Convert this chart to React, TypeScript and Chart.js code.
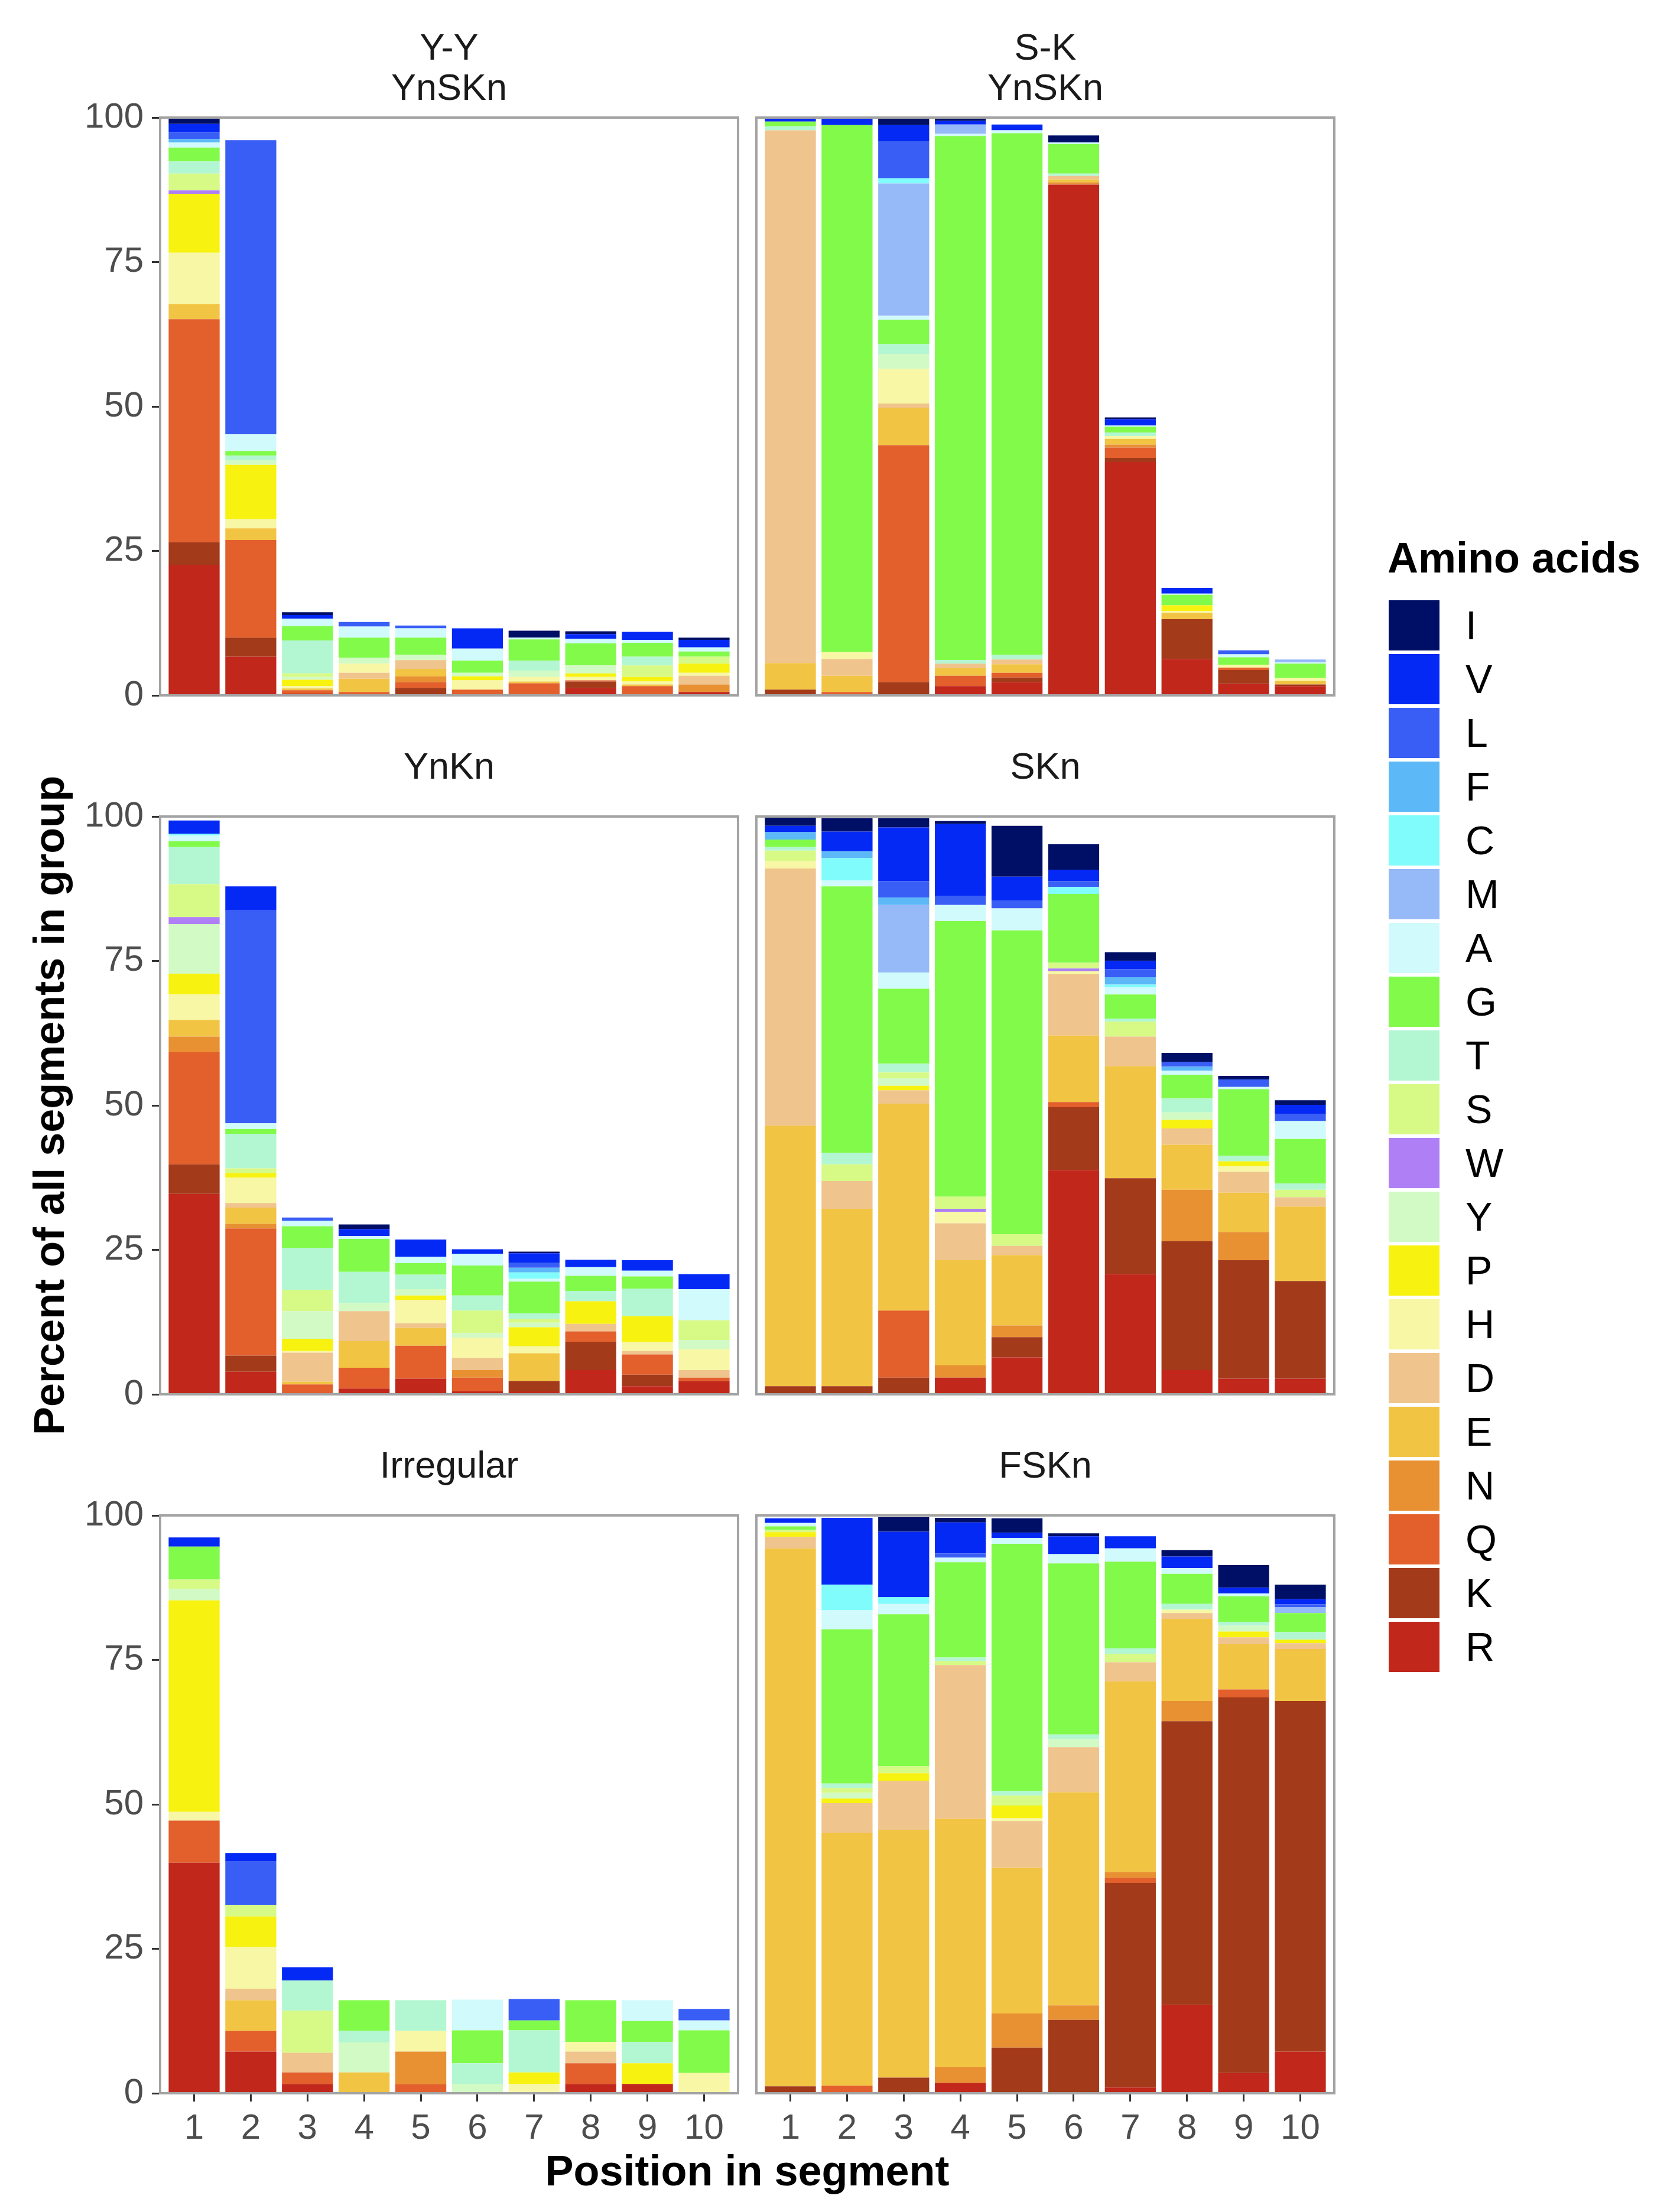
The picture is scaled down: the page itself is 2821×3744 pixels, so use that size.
import React, { useEffect, useRef } from "react";
import { Chart, registerables } from "chart.js";

Chart.register(...registerables);

// ---------- data ----------
const positions = [1, 2, 3, 4, 5, 6, 7, 8, 9, 10];
const yTicks = [0, 25, 50, 75, 100];
const aminoAcids = ["I", "V", "L", "F", "C", "M", "A", "G", "T", "S", "W", "Y", "P", "H", "D", "E", "N", "Q", "K", "R"];
const aaColors = [
  "#000F66", "#0529F5", "#395EF5", "#5DB8F7", "#80FCFC", "#96B9F7", "#D1FAFC", "#82FA4A", "#B3F7D2", "#D6FA85",
  "#AF80F5", "#D2FAC4", "#F7F20F", "#F7F7A5", "#F0C48D", "#F2C443", "#E89133", "#E35F2B", "#A33A1A", "#C2271C",
];

// rows follow aminoAcids order, columns follow positions 1..10 (percent)
const yyYnSKn = [
  [1.0, 0, 0.5, 0, 0, 0, 1.2, 0.5, 0, 0.4],
  [1.5, 0, 0.6, 0, 0, 3.5, 0, 0.8, 1.4, 1.3],
  [1.1, 50.9, 0, 0.8, 0.5, 0, 0, 0, 0, 0],
  [0.6, 0, 0, 0, 0, 0, 0, 0, 0, 0],
  [0, 0, 0, 0, 0, 0, 0, 0, 0, 0],
  [0, 0, 0, 0, 0, 0, 0, 0, 0, 0],
  [0.9, 2.9, 1.3, 1.9, 1.6, 2.1, 0.3, 0.8, 0.5, 0.7],
  [2.4, 0.8, 2.5, 3.5, 3.0, 2.1, 3.7, 3.8, 2.4, 0.9],
  [2.1, 0.8, 5.7, 0, 0, 0, 1.7, 0, 1.5, 0],
  [2.9, 0, 0.6, 0, 0, 0, 0, 0, 2.0, 1.2],
  [0.6, 0, 0, 0, 0, 0, 0, 0, 0, 0],
  [0, 0.8, 0.5, 1.0, 0.9, 0.6, 1.1, 1.4, 0, 0],
  [10.2, 9.4, 1.1, 0, 0, 0.7, 0, 0.6, 0.8, 1.6],
  [8.9, 1.6, 0.4, 1.6, 0, 1.6, 0.8, 0.6, 0.5, 0.5],
  [0, 0, 0, 1.0, 1.5, 0, 0, 0, 0, 1.5],
  [2.6, 2.0, 0.3, 2.3, 1.3, 0, 0.3, 0, 0.3, 0],
  [0, 0, 0, 0, 1.0, 0, 0, 0, 0, 1.3],
  [38.6, 16.9, 0.6, 0.6, 1.0, 1.0, 2.1, 0.2, 1.6, 0],
  [3.9, 3.3, 0, 0, 1.3, 0, 0, 1.1, 0, 0],
  [22.6, 6.7, 0.3, 0, 0, 0, 0, 1.3, 0, 0.6],
];

const skYnSKn = [
  [0, 0, 1.4, 0.4, 0, 1.2, 0.3, 0, 0, 0],
  [0.5, 1.3, 2.8, 0.6, 1.0, 0, 1.1, 1.0, 0, 0],
  [0, 0, 6.4, 0, 0, 0, 0, 0, 0.7, 0],
  [0, 0, 0, 0, 0, 0, 0, 0, 0, 0],
  [0, 0, 0.9, 0, 0, 0, 0, 0, 0, 0],
  [0, 0, 22.9, 1.6, 0, 0, 0, 0, 0, 0.5],
  [0, 0, 0.7, 0.4, 0.5, 0.3, 0.2, 0.2, 0.5, 0.2],
  [0.8, 91.2, 4.2, 90.7, 90.3, 5.1, 1.0, 1.8, 1.3, 2.5],
  [0.7, 0, 1.7, 0.6, 0.8, 0.4, 0.6, 0, 0, 0],
  [0, 0, 0, 0, 0, 0, 0, 0, 0, 0],
  [0, 0, 0, 0, 0, 0, 0, 0, 0, 0],
  [0, 0, 2.6, 0, 0, 0, 0, 0, 0, 0],
  [0, 0, 0, 0, 0, 0, 0, 1.0, 0, 0],
  [0, 1.2, 6.0, 0, 0, 0, 0.5, 0.3, 0.5, 0.5],
  [92.2, 2.9, 0.7, 0.8, 0.8, 0.6, 0, 0, 0, 0],
  [4.6, 2.8, 6.5, 1.3, 1.5, 0.5, 1.0, 1.1, 0, 0.6],
  [0, 0, 0, 0, 0, 0.4, 0.5, 0, 0, 0],
  [0, 0.6, 41.0, 1.8, 0.8, 0, 1.8, 0, 0.4, 0],
  [1.0, 0, 2.3, 0, 0.8, 0, 0.7, 6.9, 2.4, 0.3],
  [0, 0, 0, 1.6, 2.3, 88.4, 40.4, 6.3, 2.0, 1.6],
];

const ynKn = [
  [0, 0, 0, 0.8, 0, 0, 0.3, 0, 0, 0],
  [2.3, 4.2, 0, 1.2, 3.0, 0.8, 1.6, 1.3, 1.8, 2.6],
  [0, 36.8, 0.6, 0, 0, 0, 0.9, 0, 0, 0],
  [0, 0, 0, 0, 0, 0, 0.8, 0, 0, 0],
  [0.3, 0, 0, 0, 0, 0, 1.1, 0, 0, 0],
  [0, 0, 0, 0, 0, 0, 0, 0, 0, 0],
  [1.0, 1.0, 0.9, 0.5, 1.1, 2.0, 0.5, 1.5, 1.0, 5.4],
  [1.0, 0.8, 3.8, 5.7, 2.0, 5.2, 5.5, 2.6, 2.1, 0],
  [6.4, 6.0, 7.2, 5.4, 2.5, 2.6, 1.0, 1.8, 4.8, 0],
  [5.7, 0.8, 3.7, 0, 0, 3.9, 0.6, 0, 0, 3.4],
  [1.2, 0, 0, 0, 0, 0, 0, 0, 0, 0],
  [8.6, 0, 4.8, 1.4, 1.1, 0.8, 0.8, 0, 0, 1.6],
  [3.6, 0.8, 2.1, 0, 0.8, 0, 3.3, 3.9, 4.4, 0],
  [4.4, 4.4, 0.3, 0, 4.0, 3.5, 1.2, 0, 1.6, 3.6],
  [0, 0.8, 5.0, 5.2, 0.8, 2.1, 0, 1.3, 0.6, 1.3],
  [2.9, 2.8, 0.5, 4.6, 3.1, 0, 4.8, 0, 0, 0],
  [2.7, 0.8, 0, 0, 0, 1.3, 0, 0, 0, 0],
  [19.4, 22.0, 1.7, 3.6, 5.7, 2.4, 0, 1.8, 3.5, 0.6],
  [5.1, 2.8, 0, 0, 0, 0, 1.8, 4.9, 2.0, 0],
  [34.7, 3.9, 0, 1.0, 2.7, 0.5, 0.5, 4.2, 1.4, 2.3],
];

const sKn = [
  [1.5, 2.3, 1.6, 0.5, 8.8, 4.4, 1.5, 1.6, 0.6, 0.8],
  [1.1, 3.4, 9.3, 12.4, 4.2, 2.0, 1.4, 0, 0, 1.6],
  [0, 0, 2.8, 1.6, 1.3, 1.0, 1.4, 0.8, 1.3, 1.2],
  [1.3, 1.2, 1.3, 0, 0, 0, 1.3, 0.7, 0, 0],
  [0, 3.9, 0, 0, 0, 1.2, 0.5, 0, 0, 0],
  [0, 0, 11.7, 0, 0, 0, 0, 0, 0, 0],
  [0, 1.0, 2.8, 2.8, 3.8, 0, 1.2, 0.7, 0.4, 3.1],
  [1.3, 46.1, 13.0, 47.7, 52.6, 11.9, 4.2, 4.1, 11.5, 7.7],
  [0.6, 2.0, 1.5, 0, 0, 0, 0.5, 2.4, 1.0, 1.1],
  [1.8, 2.9, 1.0, 2.1, 2.0, 1.0, 2.6, 0, 0, 1.3],
  [0, 0, 0, 0.5, 0, 0.5, 0, 0, 0, 0],
  [0, 0, 1.3, 0, 0, 0, 0, 1.3, 0, 0],
  [0, 0, 0.8, 0, 0, 0, 0, 1.5, 0.8, 0],
  [1.3, 0, 0, 2.0, 0, 0.5, 0, 0, 1.0, 0],
  [44.5, 4.8, 2.3, 6.4, 1.6, 10.6, 5.1, 2.8, 3.6, 1.6],
  [45.1, 30.7, 35.8, 18.2, 12.2, 11.5, 19.4, 7.8, 6.8, 12.9],
  [0, 0, 0, 2.1, 2.0, 0, 0, 8.9, 4.9, 0],
  [0, 0, 11.6, 0, 0, 0.9, 0, 0, 0, 0],
  [1.4, 1.4, 2.9, 0, 3.5, 10.9, 16.6, 22.3, 20.5, 16.9],
  [0, 0, 0, 2.9, 6.4, 38.8, 20.8, 4.2, 2.7, 2.7],
];

const irregular = [
  [0, 0, 0, 0, 0, 0, 0, 0, 0, 0],
  [1.6, 1.5, 2.3, 0, 0, 0, 0, 0, 0, 0],
  [0, 7.5, 0, 0, 0, 0, 3.7, 0, 0, 2.0],
  [0, 0, 0, 0, 0, 0, 0, 0, 0, 0],
  [0, 0, 0, 0, 0, 0, 0, 0, 0, 0],
  [0, 0, 0, 0, 0, 0, 0, 0, 0, 0],
  [0, 0, 0, 0, 0, 5.3, 0, 0, 3.6, 1.7],
  [5.7, 0, 0, 5.3, 0, 5.7, 1.7, 7.2, 3.6, 7.4],
  [0, 0, 5.2, 2.0, 5.3, 3.6, 7.3, 0, 3.7, 0],
  [1.6, 2.0, 7.3, 0, 0, 0, 0, 0, 0, 0],
  [0, 0, 0, 0, 0, 0, 0, 0, 0, 0],
  [2.0, 0, 0, 5.2, 0, 1.6, 0, 0, 0, 0],
  [36.6, 5.3, 0, 0, 0, 0, 2.0, 0, 3.6, 0],
  [1.5, 7.2, 0, 0, 3.6, 0, 1.6, 1.7, 0, 3.5],
  [0, 2.0, 3.4, 0, 0, 0, 0, 2.0, 0, 0],
  [0, 5.3, 0, 3.6, 0, 0, 0, 0, 0, 0],
  [0, 0, 0, 0, 5.6, 0, 0, 0, 0, 0],
  [7.3, 3.6, 2.0, 0, 1.6, 0, 0, 3.6, 0, 0],
  [0, 0, 0, 0, 0, 0, 0, 0, 0, 0],
  [39.9, 7.2, 1.6, 0, 0, 0, 0, 1.6, 1.6, 0],
];

const fSKn = [
  [0, 0, 2.5, 0.8, 2.5, 0.5, 0, 1.1, 3.9, 2.5],
  [0.8, 11.6, 11.3, 5.4, 0.9, 3.1, 2.1, 2.0, 1.0, 0.9],
  [0, 0, 0, 0.7, 0, 0, 0, 0, 0, 0.5],
  [0, 0, 0, 0, 0, 0, 0, 0, 0, 0],
  [0, 4.4, 1.2, 0, 0, 0, 0, 0, 0, 0],
  [0, 0, 0, 0, 0, 0, 0, 0, 0, 1.0],
  [0.6, 3.3, 1.8, 0.8, 1.0, 1.6, 2.3, 1.0, 0.5, 0],
  [0.6, 26.7, 26.3, 16.5, 42.8, 29.6, 15.0, 5.2, 4.4, 3.3],
  [0, 0.8, 0, 0.6, 0.8, 0.8, 1.0, 1.0, 0.7, 1.3],
  [0.4, 0.8, 1.2, 0.7, 1.7, 0, 1.4, 0, 0, 0],
  [0, 0, 0, 0, 0, 0, 0, 0, 0, 0],
  [0, 1.0, 0, 0, 0, 1.4, 0, 0, 1.0, 0],
  [0.8, 0.8, 1.3, 0, 2.2, 0, 0, 0, 1.0, 0.6],
  [0, 0, 0, 0, 0.5, 0, 0, 0.6, 0, 0],
  [2.0, 5.1, 8.5, 26.6, 8.1, 7.8, 3.3, 1.0, 1.2, 1.0],
  [93.1, 43.8, 42.9, 43.0, 25.2, 36.9, 33.0, 14.2, 7.8, 9.0],
  [0, 0, 0, 2.7, 5.9, 2.5, 1.0, 3.5, 0, 0],
  [0, 1.3, 0, 0, 0, 0, 0.9, 0, 1.4, 0],
  [1.2, 0, 2.7, 0, 7.9, 12.7, 35.4, 49.1, 65.0, 60.7],
  [0, 0, 0, 1.8, 0, 0, 1.0, 15.3, 3.5, 7.2],
];

const panelTitles = [["Y-Y", "YnSKn"], ["S-K", "YnSKn"], ["YnKn"], ["SKn"], ["Irregular"], ["FSKn"]];
const panelData = [yyYnSKn, skYnSKn, ynKn, sKn, irregular, fSKn];
const xTitle = "Position in segment";
const yTitle = "Percent of all segments in group";
const legendTitle = "Amino acids";

// ---------- layout ----------
const FONT = "'Liberation Sans', Arial, Helvetica, sans-serif";
const PW = 978;
const PH = 978;
const COL_X = [271, 1280];
const ROW_Y = [199, 1382, 2565];
const PAD = 64;
const YW = 140;
const XH = 120;

const borderPlugin = {
  id: "panelBorder",
  afterDatasetsDraw(chart: any) {
    const { ctx, chartArea } = chart;
    ctx.save();
    ctx.strokeStyle = "#a3a3a3";
    ctx.lineWidth = 4;
    ctx.strokeRect(chartArea.left, chartArea.top, chartArea.right - chartArea.left, chartArea.bottom - chartArea.top);
    ctx.restore();
  },
};

function Panel({ idx }: { idx: number }) {
  const ref = useRef<HTMLCanvasElement | null>(null);
  const col = idx % 2;
  const row = Math.floor(idx / 2);
  const isLeft = col === 0;
  const isBottom = row === 2;
  const cLeft = COL_X[col] - PAD - (isLeft ? YW : 0);
  const cTop = ROW_Y[row] - PAD;
  const cW = PW + 2 * PAD + (isLeft ? YW : 0);
  const cH = PH + 2 * PAD + (isBottom ? XH : 0);

  useEffect(() => {
    if (!ref.current) return;
    const matrix = panelData[idx];
    const datasets = aminoAcids
      .map((aa, i) => ({
        label: aa,
        data: positions.map((p, j) => ({ x: p, y: matrix[i][j] })),
        backgroundColor: aaColors[i],
        borderWidth: 0,
        barPercentage: 0.9,
        categoryPercentage: 1.0,
      }))
      .reverse();
    const chart = new Chart(ref.current, {
      type: "bar",
      data: { datasets },
      options: {
        animation: false,
        responsive: false,
        devicePixelRatio: 1,
        layout: { padding: { left: PAD, right: PAD, top: PAD, bottom: PAD } },
        plugins: { legend: { display: false }, tooltip: { enabled: false }, title: { display: false } },
        scales: {
          x: {
            type: "linear",
            stacked: true,
            offset: false,
            min: 0.4,
            max: 10.6,
            display: isBottom,
            afterBuildTicks: (axis: any) => {
              axis.ticks = positions.map((v) => ({ value: v }));
            },
            afterFit: (s: any) => {
              s.height = isBottom ? XH : 0;
            },
            grid: { offset: false, drawOnChartArea: false, drawTicks: true, tickLength: 14, color: "#333333", lineWidth: 3 },
            border: { display: false },
            ticks: {
              autoSkip: false,
              maxRotation: 0,
              padding: 10,
              color: "#4d4d4d",
              font: { family: FONT, size: 60 },
              callback: (v: any) => String(v),
            },
          },
          y: {
            type: "linear",
            stacked: true,
            min: 0,
            max: 100,
            display: isLeft,
            afterBuildTicks: (axis: any) => {
              axis.ticks = yTicks.map((v) => ({ value: v }));
            },
            afterFit: (s: any) => {
              s.width = isLeft ? YW : 0;
            },
            grid: { drawOnChartArea: false, drawTicks: true, tickLength: 14, color: "#333333", lineWidth: 3 },
            border: { display: false },
            ticks: {
              padding: 14,
              color: "#4d4d4d",
              font: { family: FONT, size: 60 },
              callback: (v: any) => String(v),
            },
          },
        },
      },
      plugins: [borderPlugin],
    } as any);
    return () => chart.destroy();
  }, [idx]);

  return (
    <canvas
      ref={ref}
      width={cW}
      height={cH}
      style={{ position: "absolute", left: cLeft, top: cTop, width: cW, height: cH }}
    />
  );
}

function StripTitle({ idx }: { idx: number }) {
  const col = idx % 2;
  const row = Math.floor(idx / 2);
  const lines = panelTitles[idx];
  const center = ROW_Y[row] - 86;
  const lh = 68;
  const top = center - (lines.length * lh) / 2;
  return (
    <div
      style={{
        position: "absolute",
        left: COL_X[col],
        width: PW,
        top,
        textAlign: "center",
        fontFamily: FONT,
        fontSize: 63,
        lineHeight: `${lh}px`,
        color: "#1a1a1a",
      }}
    >
      {lines.map((l) => (
        <div key={l}>{l}</div>
      ))}
    </div>
  );
}

export default function App() {
  return (
    <div style={{ position: "absolute", left: 0, top: 0, width: 2821, height: 3744, background: "#ffffff", overflow: "hidden" }}>
      {panelData.map((_, i) => (
        <Panel key={"p" + i} idx={i} />
      ))}
      {panelTitles.map((_, i) => (
        <StripTitle key={"s" + i} idx={i} />
      ))}
      <div
        style={{
          position: "absolute",
          left: COL_X[0],
          width: COL_X[1] + PW - COL_X[0],
          top: 3638,
          textAlign: "center",
          fontFamily: FONT,
          fontWeight: "bold",
          fontSize: 72,
          lineHeight: "72px",
          color: "#000",
        }}
      >
        {xTitle}
      </div>
      <div
        style={{
          position: "absolute",
          left: 83,
          top: 1871,
          transform: "translate(-50%, -50%) rotate(-90deg)",
          whiteSpace: "nowrap",
          fontFamily: FONT,
          fontWeight: "bold",
          fontSize: 72,
          lineHeight: "72px",
          color: "#000",
        }}
      >
        {yTitle}
      </div>
      <div
        style={{
          position: "absolute",
          left: 2348,
          top: 908,
          fontFamily: FONT,
          fontWeight: "bold",
          fontSize: 72,
          lineHeight: "72px",
          color: "#000",
          whiteSpace: "nowrap",
        }}
      >
        {legendTitle}
      </div>
      {aminoAcids.map((aa, i) => (
        <React.Fragment key={"l" + aa}>
          <div
            style={{
              position: "absolute",
              left: 2350,
              top: 1016 + i * 91,
              width: 86,
              height: 85,
              background: aaColors[i],
            }}
          />
          <div
            style={{
              position: "absolute",
              left: 2480,
              top: 1016 + i * 91,
              height: 85,
              lineHeight: "85px",
              fontFamily: FONT,
              fontSize: 68,
              color: "#000",
            }}
          >
            {aa}
          </div>
        </React.Fragment>
      ))}
    </div>
  );
}
